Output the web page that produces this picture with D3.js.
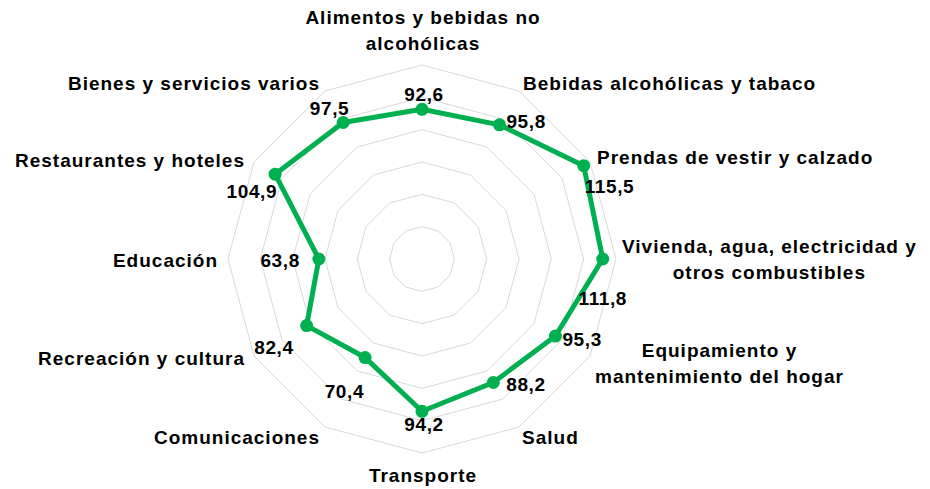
<!DOCTYPE html>
<html>
<head>
<meta charset="utf-8">
<title>Radar</title>
<script src="https://d3js.org/d3.v7.min.js"></script>
<style>
  body { margin: 0; background: #fff; }
  text { font-family: "Liberation Sans", Arial, sans-serif; font-weight: bold; fill: #000; }
</style>
</head>
<body>
<div id="chart"></div>
<script>
// datos
const categorias = [
  ["Alimentos y bebidas no", "alcohólicas"],
  ["Bebidas alcohólicas y tabaco"],
  ["Prendas de vestir y calzado"],
  ["Vivienda, agua, electricidad y", "otros combustibles"],
  ["Equipamiento y", "mantenimiento del hogar"],
  ["Salud"],
  ["Transporte"],
  ["Comunicaciones"],
  ["Recreación y cultura"],
  ["Educación"],
  ["Restaurantes y hoteles"],
  ["Bienes y servicios varios"]
];
const valores = [92.6, 95.8, 115.5, 111.8, 95.3, 88.2, 94.2, 70.4, 82.4, 63.8, 104.9, 97.5];
const anillos = [20, 40, 60, 80, 100, 120];

// desplazamiento de las etiquetas de valor [dx, dy, anchor]
const posValor = [
  [2, -15, "middle"], [7, -4, "start"], [1, 21, "start"], [0, 39, "middle"],
  [7, 3, "start"], [13, 2, "start"], [2, 13, "middle"], [-1, 34, "end"],
  [-13, 22, "end"], [-19, 1, "end"], [2, 17, "end"], [6, -14, "end"]
];
// desplazamiento de las etiquetas de categoria respecto al vertice exterior [dx, dy]
const posCat = [
  [1, -35], [4, -8], [7, -5], [6, 0], [5, 7], [3, 10],
  [1, 22], [-5, 10], [-9, 2], [-10, 1], [-9, -2], [-5, -8]
];

const w = 930, h = 489;
const cx = 422, cy = 259, R = 194;
const fs = 19;
const verde = "#00b050";

const svg = d3.select("#chart").append("svg")
  .attr("width", w).attr("height", h);

const r = d3.scaleLinear().domain([0, 120]).range([0, R]);
const ang = d3.scaleLinear().domain([0, categorias.length]).range([0, 2 * Math.PI]);

function punto(i, v) {
  const a = ang(i);
  return [cx + r(v) * Math.sin(a), cy - r(v) * Math.cos(a)];
}

// rejilla
svg.append("g").selectAll("polygon")
  .data(anillos).enter()
  .append("polygon")
  .attr("points", function(v) { return categorias.map(function(c, i) { return punto(i, v).join(","); }).join(" "); })
  .attr("fill", "none")
  .attr("stroke", "#d9d9d9")
  .attr("stroke-width", 1);

// serie
const linea = d3.line().curve(d3.curveLinearClosed);
svg.append("path")
  .attr("d", linea(valores.map(function(v, i) { return punto(i, v); })))
  .attr("fill", "none")
  .attr("stroke", verde)
  .attr("stroke-width", 5)
  .attr("stroke-linejoin", "round");

svg.append("g").selectAll("circle")
  .data(valores).enter()
  .append("circle")
  .attr("cx", function(v, i) { return punto(i, v)[0]; })
  .attr("cy", function(v, i) { return punto(i, v)[1]; })
  .attr("r", 6.5)
  .attr("fill", verde);

// etiquetas de valor
svg.append("g").selectAll("text")
  .data(valores).enter()
  .append("text")
  .attr("x", function(v, i) { return punto(i, v)[0] + posValor[i][0]; })
  .attr("y", function(v, i) { return punto(i, v)[1] + posValor[i][1]; })
  .attr("dy", "0.35em")
  .attr("text-anchor", function(v, i) { return posValor[i][2]; })
  .style("font-size", fs + "px")
  .style("letter-spacing", "0.6px")
  .text(function(v) { return d3.format(".1f")(v).replace(".", ","); });

// etiquetas de categoria
const lh = 26;
const gCat = svg.append("g");
categorias.forEach(function(lineas, i) {
  const s = Math.sin(ang(i));
  const p = punto(i, 120);
  const t = gCat.append("text")
    .attr("text-anchor", "middle")
    .style("font-size", fs + "px")
    .style("letter-spacing", "1px");
  lineas.forEach(function(l, k) {
    t.append("tspan").attr("x", 0).attr("y", k * lh).attr("dy", "0.35em").text(l);
  });
  const bw = t.node().getBBox().width;
  const bh = (lineas.length - 1) * lh;
  let x = p[0] + posCat[i][0];
  if (s > 0.01) x += bw / 2;
  else if (s < -0.01) x -= bw / 2;
  const y = p[1] + posCat[i][1] - bh / 2;
  t.attr("transform", "translate(" + x + "," + y + ")");
});
</script>
</body>
</html>
